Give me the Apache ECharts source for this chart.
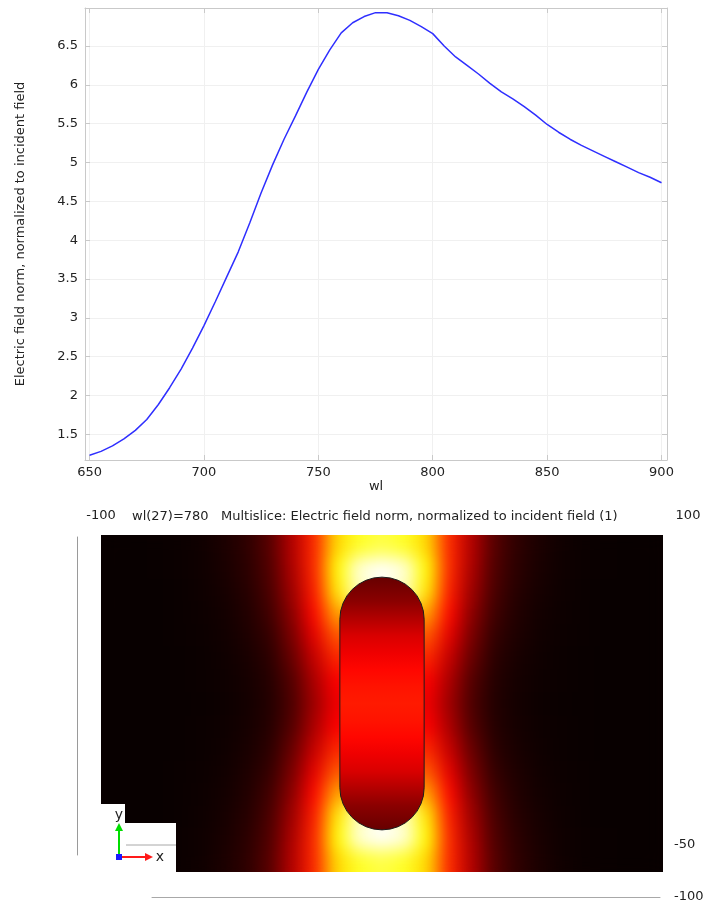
<!DOCTYPE html>
<html>
<head>
<meta charset="utf-8">
<script src="https://cdn.jsdelivr.net/npm/echarts@6/dist/echarts.min.js"></script>
<style>
  html, body { margin: 0; padding: 0; background: #ffffff; }
  #wrap { position: relative; width: 705px; height: 907px; }
  #field { position: absolute; left: 101px; top: 535px; width: 562px; height: 337px; filter: url(#smooth); }
  #main { position: absolute; left: 0; top: 0; width: 705px; height: 907px; }
</style>
</head>
<body>
<!-- normalised gaussian smoothing of the slice cells (alpha restored after blur) -->
<svg width="0" height="0" style="position:absolute">
  <filter id="smooth" x="0%" y="0%" width="100%" height="100%" color-interpolation-filters="sRGB">
    <feGaussianBlur stdDeviation="9"/>
    <feComponentTransfer>
      <feFuncA type="linear" slope="40" intercept="0"/>
    </feComponentTransfer>
  </filter>
</svg>
<div id="wrap">
  <div id="field"></div>
  <div id="main"></div>
</div>
<script>
// ---- wavelength sweep (nm) and field enhancement ----
const wavelengths = [650, 655, 660, 665, 670, 675, 680, 685, 690, 695,
                     700, 705, 710, 715, 720, 725, 730, 735, 740, 745,
                     750, 755, 760, 765, 770, 775, 780, 785, 790, 795,
                     800, 805, 810, 815, 820, 825, 830, 835, 840, 845,
                     850, 855, 860, 865, 870, 875, 880, 885, 890, 895, 900];
const fieldNorm = [1.23, 1.28, 1.35, 1.44, 1.55, 1.69, 1.88, 2.10, 2.34, 2.61,
                   2.90, 3.21, 3.53, 3.85, 4.22, 4.61, 4.97, 5.30, 5.60, 5.91,
                   6.20, 6.45, 6.67, 6.80, 6.88, 6.93, 6.93, 6.89, 6.83, 6.75,
                   6.66, 6.50, 6.36, 6.25, 6.14, 6.02, 5.91, 5.82, 5.72, 5.61,
                   5.49, 5.39, 5.30, 5.22, 5.15, 5.08, 5.01, 4.94, 4.87, 4.81, 4.74];
const wlTicks = [650, 700, 750, 800, 850, 900];
const normTicks = [1.5, 2, 2.5, 3, 3.5, 4, 4.5, 5, 5.5, 6, 6.5];

// ---- slice at wl = 780 nm: cell centres (nm) and field norm ----
const sliceX = [-96, -88, -80, -72, -64, -56, -48, -40, -32, -24, -16, -8, 0,
                8, 16, 24, 32, 40, 48, 56, 64, 72, 80, 88, 96];
const sliceY = [56, 48, 40, 32, 24, 16, 8, 0, -8, -16, -24, -32, -40, -48, -56];
const n = null; // cells inside the particle
const sliceField = [
  [0.92,0.92,0.94,0.97,1.05,1.22,1.52,2.15,3.60,5.40,8.20,9.40,9.90,9.40,8.20,5.40,3.60,2.15,1.52,1.22,1.05,0.97,0.94,0.92,0.92],
  [0.92,0.92,0.94,0.97,1.04,1.20,1.48,2.05,3.50,5.40,8.80,12.2,12.8,12.2,8.80,5.40,3.50,2.05,1.48,1.20,1.04,0.97,0.94,0.92,0.92],
  [0.92,0.92,0.93,0.96,1.02,1.15,1.40,1.95,3.30,5.20,8.50,11.8,n,11.8,8.50,5.20,3.30,1.95,1.40,1.15,1.02,0.96,0.93,0.92,0.92],
  [0.92,0.92,0.93,0.96,1.00,1.10,1.32,1.80,3.00,4.90,7.40,n,n,n,7.40,4.90,3.00,1.80,1.32,1.10,1.00,0.96,0.93,0.92,0.92],
  [0.92,0.92,0.93,0.95,0.99,1.07,1.25,1.62,2.70,4.40,6.20,n,n,n,6.20,4.40,2.70,1.62,1.25,1.07,0.99,0.95,0.93,0.92,0.92],
  [0.92,0.92,0.93,0.94,0.98,1.04,1.18,1.48,2.40,3.90,5.40,n,n,n,5.40,3.90,2.40,1.48,1.18,1.04,0.98,0.94,0.93,0.92,0.92],
  [0.92,0.92,0.92,0.94,0.97,1.02,1.13,1.38,2.10,3.50,4.80,n,n,n,4.80,3.50,2.10,1.38,1.13,1.02,0.97,0.94,0.92,0.92,0.92],
  [0.92,0.92,0.92,0.94,0.96,1.01,1.11,1.34,2.00,3.30,4.60,n,n,n,4.60,3.30,2.00,1.34,1.11,1.01,0.96,0.94,0.92,0.92,0.92],
  [0.92,0.92,0.92,0.94,0.97,1.02,1.13,1.38,2.10,3.50,4.80,n,n,n,4.80,3.50,2.10,1.38,1.13,1.02,0.97,0.94,0.92,0.92,0.92],
  [0.92,0.92,0.93,0.94,0.98,1.04,1.18,1.48,2.40,3.90,5.40,n,n,n,5.40,3.90,2.40,1.48,1.18,1.04,0.98,0.94,0.93,0.92,0.92],
  [0.92,0.92,0.93,0.95,0.99,1.07,1.25,1.62,2.70,4.40,6.20,n,n,n,6.20,4.40,2.70,1.62,1.25,1.07,0.99,0.95,0.93,0.92,0.92],
  [0.92,0.92,0.93,0.96,1.00,1.10,1.32,1.80,3.00,4.90,7.40,n,n,n,7.40,4.90,3.00,1.80,1.32,1.10,1.00,0.96,0.93,0.92,0.92],
  [0.92,0.92,0.93,0.96,1.02,1.15,1.40,1.95,3.30,5.20,8.50,11.8,n,11.8,8.50,5.20,3.30,1.95,1.40,1.15,1.02,0.96,0.93,0.92,0.92],
  [0.92,0.92,0.94,0.97,1.04,1.20,1.48,2.05,3.50,5.40,8.80,12.2,12.8,12.2,8.80,5.40,3.50,2.05,1.48,1.20,1.04,0.97,0.94,0.92,0.92],
  [0.92,0.92,0.94,0.97,1.05,1.22,1.52,2.15,3.60,5.40,8.20,9.40,9.90,9.40,8.20,5.40,3.60,2.15,1.52,1.22,1.05,0.97,0.94,0.92,0.92]
];

// nanorod: [xMin, xMax, yMin, yMax] in nm, and the field along its axis
const rodExtent = [-15, 15, -45, 45];
const rodY     = [45, 36, 30, 24, 18, 12, 6, 0, -6, -12, -18, -24, -30, -36, -45];
const rodField = [2.4, 3.0, 3.6, 4.2, 4.55, 4.9, 5.1, 5.2, 5.1, 4.9, 4.55, 4.2, 3.6, 3.0, 2.4];

// view axes of the slice plot
const viewXTicks = [-100, 100];
const viewYTicks = [-100, -50];
const sliceTitle = 'wl(27)=780   Multislice: Electric field norm, normalized to incident field (1)';

// ---- colour table (black-red-yellow-white) ----
const heatColors = ['#000000', '#ff0000', '#ffff00', '#ffffff'];
const heatRange = [0.8, 12.8];

function hexToRgb(h) {
  return [parseInt(h.slice(1, 3), 16), parseInt(h.slice(3, 5), 16), parseInt(h.slice(5, 7), 16)];
}
function heatColor(v) {
  let t = (v - heatRange[0]) / (heatRange[1] - heatRange[0]);
  t = Math.max(0, Math.min(1, t));
  const seg = t * (heatColors.length - 1);
  const i = Math.min(heatColors.length - 2, Math.floor(seg));
  const f = seg - i;
  const a = hexToRgb(heatColors[i]), b = hexToRgb(heatColors[i + 1]);
  const c = a.map((x, k) => Math.round(x + (b[k] - x) * f));
  return 'rgb(' + c.join(',') + ')';
}

const FONT = 'DejaVu Sans';
const frameColor = '#c9c9c9';
const gridColor = '#f0f0f0';
const textColor = '#222222';

// ---- slice heat map ----
const cells = [];
sliceField.forEach((row, r) => row.forEach((v, c) => { if (v !== null) cells.push([c, r, v]); }));

const fieldChart = echarts.init(document.getElementById('field'), null, { renderer: 'canvas' });
fieldChart.setOption({
  animation: false,
  grid: { left: 0, top: 0, right: 0, bottom: 0, outerBoundsMode: 'none' },
  xAxis: { type: 'category', data: sliceX, show: false },
  yAxis: { type: 'category', data: sliceY, inverse: true, show: false },
  visualMap: { show: false, min: heatRange[0], max: heatRange[1], dimension: 2, inRange: { color: heatColors } },
  series: [{ type: 'heatmap', data: cells, itemStyle: { borderWidth: 0 }, emphasis: { disabled: true }, progressive: 0 }]
});

// ---- spectrum + decorations ----
const mainChart = echarts.init(document.getElementById('main'), null, { renderer: 'canvas' });
const labelStyle = { color: textColor, fontSize: 13, fontFamily: FONT };

mainChart.setOption({
  animation: false,
  backgroundColor: 'transparent',
  textStyle: { fontFamily: FONT },
  title: {
    text: sliceTitle, left: 127, top: 505,
    textStyle: { fontSize: 13, fontWeight: 'normal', color: textColor, fontFamily: FONT }
  },
  grid: [
    { left: 85, top: 8, width: 582, height: 452, outerBoundsMode: 'none' },
    { left: 101, top: 535, width: 562, height: 337, outerBoundsMode: 'none' },
    { left: 101, top: 528, width: 587, height: 10, outerBoundsMode: 'none' },
    { left: 152, top: 845, width: 508, height: 52, outerBoundsMode: 'none' },
    { left: 77, top: 537, width: 1, height: 318, outerBoundsMode: 'none' }
  ],
  xAxis: [
    {
      gridIndex: 0, type: 'value', min: 648, max: 902.4, position: 'bottom',
      axisLine: { show: true, lineStyle: { color: frameColor } },
      axisTick: { show: true, inside: true, length: 5, customValues: wlTicks, lineStyle: { color: frameColor } },
      axisLabel: Object.assign({ customValues: wlTicks, margin: 6 }, labelStyle),
      splitLine: { show: true, lineStyle: { color: gridColor } },
      name: 'wl', nameLocation: 'middle', nameGap: 19, nameTextStyle: labelStyle
    },
    {
      gridIndex: 0, type: 'value', min: 648, max: 902.4, position: 'top',
      axisLine: { show: true, lineStyle: { color: frameColor } },
      axisTick: { show: true, inside: true, length: 5, customValues: wlTicks, lineStyle: { color: frameColor } },
      axisLabel: { show: false }, splitLine: { show: false }
    },
    { gridIndex: 1, type: 'value', min: -100, max: 100, show: false },
    {
      gridIndex: 2, type: 'value', min: -100, max: 100, position: 'top',
      axisLine: { show: false }, axisTick: { show: false }, splitLine: { show: false },
      axisLabel: Object.assign({ customValues: viewXTicks, margin: 6 }, labelStyle)
    },
    {
      gridIndex: 3, type: 'value', min: 0, max: 1,
      axisLine: { show: true, lineStyle: { color: '#a8a8a8' } },
      axisTick: { show: false }, axisLabel: { show: false }, splitLine: { show: false }
    },
    { gridIndex: 4, type: 'value', min: 0, max: 1, show: false }
  ],
  yAxis: [
    {
      gridIndex: 0, type: 'value', min: 1.169, max: 6.99, position: 'left',
      axisLine: { show: true, lineStyle: { color: frameColor } },
      axisTick: { show: true, inside: true, length: 5, customValues: normTicks, lineStyle: { color: frameColor } },
      axisLabel: Object.assign({ customValues: normTicks, margin: 7 }, labelStyle),
      splitLine: { show: true, lineStyle: { color: gridColor } },
      name: 'Electric field norm, normalized to incident field', nameLocation: 'middle', nameGap: 58,
      nameTextStyle: labelStyle
    },
    {
      gridIndex: 0, type: 'value', min: 1.169, max: 6.99, position: 'right',
      axisLine: { show: true, lineStyle: { color: frameColor } },
      axisTick: { show: true, inside: true, length: 5, customValues: normTicks, lineStyle: { color: frameColor } },
      axisLabel: { show: false }, splitLine: { show: false }
    },
    { gridIndex: 1, type: 'value', min: -60, max: 60, show: false },
    { gridIndex: 2, type: 'value', min: 0, max: 1, show: false },
    {
      gridIndex: 3, type: 'value', min: -100, max: -50, position: 'right',
      axisLine: { show: false }, axisTick: { show: false }, splitLine: { show: false },
      axisLabel: Object.assign({ customValues: viewYTicks, margin: 14 }, labelStyle)
    },
    {
      gridIndex: 4, type: 'value', min: 0, max: 1, position: 'left',
      axisLine: { show: true, lineStyle: { color: '#9a9a9a' } },
      axisTick: { show: false }, axisLabel: { show: false }, splitLine: { show: false }
    }
  ],
  series: [
    {
      type: 'line', xAxisIndex: 0, yAxisIndex: 0,
      data: wavelengths.map((w, i) => [w, fieldNorm[i]]),
      symbol: 'none', smooth: false,
      lineStyle: { color: '#2f2fff', width: 1.5 }
    },
    {
      type: 'custom', xAxisIndex: 2, yAxisIndex: 2,
      data: [rodExtent],
      encode: { x: [0, 1], y: [2, 3] },
      renderItem: function (params, api) {
        const p0 = api.coord([api.value(0), api.value(3)]);
        const p1 = api.coord([api.value(1), api.value(2)]);
        const w = p1[0] - p0[0], h = p1[1] - p0[1];
        const span = rodExtent[3] - rodExtent[2];
        const stops = rodY.map((y, i) => ({ offset: (rodExtent[3] - y) / span, color: heatColor(rodField[i]) }));
        return {
          type: 'rect',
          shape: { x: p0[0], y: p0[1], width: w, height: h, r: w / 2 },
          style: { fill: new echarts.graphic.LinearGradient(0, 0, 0, 1, stops), stroke: '#1c1c1c', lineWidth: 1 }
        };
      }
    }
  ],
  graphic: [
    // coordinate-system triad in the lower-left corner of the slice plot
    {
      type: 'polygon', z: 10,
      shape: { points: [[101, 804], [125, 804], [125, 823], [176, 823], [176, 872], [101, 872]] },
      style: { fill: '#ffffff' }
    },
    { type: 'line', z: 11, shape: { x1: 126, y1: 845, x2: 176, y2: 845 }, style: { stroke: '#a8a8a8', lineWidth: 1 } },
    { type: 'line', z: 12, shape: { x1: 119, y1: 857, x2: 119, y2: 830 }, style: { stroke: '#00dd00', lineWidth: 2 } },
    { type: 'polygon', z: 12, shape: { points: [[115, 831], [123, 831], [119, 823]] }, style: { fill: '#00dd00' } },
    { type: 'line', z: 12, shape: { x1: 119, y1: 857, x2: 146, y2: 857 }, style: { stroke: '#ff1a1a', lineWidth: 2 } },
    { type: 'polygon', z: 12, shape: { points: [[145, 853], [145, 861], [153, 857]] }, style: { fill: '#ff1a1a' } },
    { type: 'rect', z: 13, shape: { x: 116, y: 854, width: 6, height: 6 }, style: { fill: '#1a1aff' } },
    { type: 'text', z: 13, x: 119, y: 815, style: { text: 'y', fill: textColor, font: '14px "DejaVu Sans"', align: 'center', verticalAlign: 'middle' } },
    { type: 'text', z: 13, x: 160, y: 857, style: { text: 'x', fill: textColor, font: '14px "DejaVu Sans"', align: 'center', verticalAlign: 'middle' } }
  ]
});
</script>
</body>
</html>
